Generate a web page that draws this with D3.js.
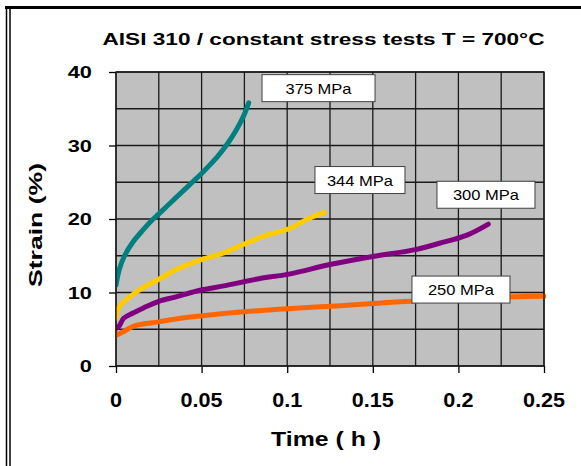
<!DOCTYPE html>
<html><head><meta charset="utf-8">
<script src="https://cdn.jsdelivr.net/npm/d3@7/dist/d3.min.js"></script>
<style>html,body{margin:0;padding:0;background:#fff;}svg{display:block;}</style>
</head><body>
<svg id="chart" width="581" height="466"></svg>
<script>
// ---- data ----
const seriesNames = ["375 MPa", "344 MPa", "300 MPa", "250 MPa"];
const seriesColors = ["#008080", "#FFCC00", "#800080", "#FF6600"];
const t375 = [0, 0.002, 0.005, 0.010, 0.015, 0.020, 0.025, 0.030, 0.035, 0.040, 0.045, 0.050, 0.055, 0.060, 0.065, 0.070, 0.0745, 0.0775];
const s375 = [11.0, 13.2, 15.0, 16.9, 18.3, 19.6, 20.7, 21.8, 22.9, 24.0, 25.1, 26.2, 27.4, 28.7, 30.2, 32.0, 34.0, 35.8];
const t344 = [0, 0.002, 0.008, 0.016, 0.025, 0.035, 0.049, 0.063, 0.076, 0.088, 0.1015, 0.111, 0.1215];
const s344 = [6.5, 8.1, 9.4, 10.7, 11.8, 13.1, 14.4, 15.4, 16.7, 17.8, 18.7, 19.9, 20.9];
const t300 = [0, 0.002, 0.0045, 0.010, 0.016, 0.025, 0.035, 0.049, 0.063, 0.084, 0.101, 0.125, 0.150, 0.174, 0.189, 0.205, 0.2175];
const s300 = [5.1, 5.5, 6.5, 7.2, 7.9, 8.8, 9.4, 10.3, 10.9, 11.9, 12.5, 13.8, 14.9, 15.8, 16.7, 17.8, 19.3];
const t250 = [0, 0.0045, 0.010, 0.025, 0.035, 0.049, 0.076, 0.100, 0.131, 0.150, 0.200, 0.250];
const s250 = [4.2, 4.7, 5.4, 6.0, 6.4, 6.8, 7.4, 7.8, 8.2, 8.5, 9.2, 9.5];
const xTicks = [0, 0.05, 0.1, 0.15, 0.2, 0.25];
const xTickLabels = ["0", "0.05", "0.1", "0.15", "0.2", "0.25"];
const yTicks = [0, 10, 20, 30, 40];
const xGrid = [0, 0.025, 0.05, 0.075, 0.1, 0.125, 0.15, 0.175, 0.2, 0.225, 0.25];
const yGrid = [0, 5, 10, 15, 20, 25, 30, 35, 40];
const titleText = "AISI 310 / constant  stress tests   T = 700\u00B0C";
const xTitle = "Time  ( h )";
const yTitle = "Strain (%)";
// label box centres (data coordinates)
const labelT = [0.1183, 0.1425, 0.2161, 0.2015];
const labelV = [37.8, 25.3, 23.3, 10.4];

const series = [
  {t: t375, s: s375}, {t: t344, s: s344}, {t: t300, s: s300}, {t: t250, s: s250}
];

// ---- layout ----
const svg = d3.select("#chart");
const L = 116, R = 544, T = 72, B = 366;
const x = d3.scaleLinear().domain([0, 0.25]).range([L, R]);
const y = d3.scaleLinear().domain([0, 40]).range([B, T]);
const FONT = "'Liberation Sans', Arial, sans-serif";

function stretch(sel, f) {
  sel.each(function() {
    const w = this.getComputedTextLength();
    d3.select(this).attr("textLength", w * f).attr("lengthAdjust", "spacingAndGlyphs");
  });
}

// outer frame
svg.append("line").attr("x1", 5).attr("x2", 581).attr("y1", 7.5).attr("y2", 7.5)
  .attr("stroke", "#000").attr("stroke-width", 3);
svg.append("line").attr("x1", 6.5).attr("x2", 6.5).attr("y1", 6).attr("y2", 466)
  .attr("stroke", "#000").attr("stroke-width", 1.5);
svg.append("line").attr("x1", 10).attr("x2", 10).attr("y1", 9).attr("y2", 466)
  .attr("stroke", "#000").attr("stroke-width", 1.5);

// plot background
svg.append("rect").attr("x", L).attr("y", T).attr("width", R - L).attr("height", B - T)
  .attr("fill", "#C0C0C0");

// grid
svg.append("g").selectAll("line").data(xGrid).join("line")
  .attr("x1", d => x(d)).attr("x2", d => x(d)).attr("y1", T).attr("y2", B)
  .attr("stroke", "#1a1a1a").attr("stroke-width", 1.3);
svg.append("g").selectAll("line").data(yGrid).join("line")
  .attr("x1", L).attr("x2", R).attr("y1", d => y(d)).attr("y2", d => y(d))
  .attr("stroke", "#1a1a1a").attr("stroke-width", 1.3);

// axes ticks
const yAxis = d3.axisLeft(y).tickValues(yTicks).tickSize(7).tickFormat("");
const gy = svg.append("g").attr("transform", `translate(${L},0)`).call(yAxis);
gy.select(".domain").remove();
gy.selectAll(".tick line").attr("stroke", "#000").attr("stroke-width", 1.3);
const xAxis = d3.axisBottom(x).tickValues(xTicks).tickSize(7).tickFormat("");
const gx = svg.append("g").attr("transform", `translate(0,${B})`).call(xAxis);
gx.select(".domain").remove();
gx.selectAll(".tick line").attr("stroke", "#000").attr("stroke-width", 1.3);

// tick labels
svg.append("g").selectAll("text").data(yTicks).join("text")
  .attr("x", 92).attr("y", d => y(d) + 6)
  .attr("text-anchor", "end").attr("font-family", FONT).attr("font-weight", "bold")
  .attr("font-size", 17).attr("fill", "#000").text(d => d)
  .call(stretch, 1.28);
svg.append("g").selectAll("text").data(xTicks).join("text")
  .attr("x", d => x(d)).attr("y", 407)
  .attr("text-anchor", "middle").attr("font-family", FONT).attr("font-weight", "bold")
  .attr("font-size", 20).attr("fill", "#000").text((d, i) => xTickLabels[i])
  .call(stretch, 1.08);

// titles
svg.append("text").attr("x", 102.5).attr("y", 44.5)
  .attr("font-family", FONT).attr("font-weight", "bold").attr("font-size", 17)
  .attr("textLength", 442).attr("lengthAdjust", "spacingAndGlyphs").text(titleText);
svg.append("text").attr("x", 271).attr("y", 446)
  .attr("font-family", FONT).attr("font-weight", "bold").attr("font-size", 20)
  .attr("textLength", 110).attr("lengthAdjust", "spacingAndGlyphs").text(xTitle);
svg.append("text").attr("transform", "translate(42,225) rotate(-90)")
  .attr("text-anchor", "middle")
  .attr("font-family", FONT).attr("font-weight", "bold").attr("font-size", 19)
  .attr("textLength", 124).attr("lengthAdjust", "spacingAndGlyphs")
  .text(yTitle);

// clip
svg.append("clipPath").attr("id", "clip").append("rect")
  .attr("x", L).attr("y", T - 10).attr("width", R - L + 2).attr("height", B - T + 20);

// curves
const line = d3.line().x(d => x(d[0])).y(d => y(d[1])).curve(d3.curveCatmullRom.alpha(0.5));
const gl = svg.append("g").attr("clip-path", "url(#clip)");
series.forEach((sr, i) => {
  const pts = sr.t.map((t, j) => [t, sr.s[j]]);
  gl.append("path").attr("d", line(pts)).attr("fill", "none")
    .attr("stroke", seriesColors[i]).attr("stroke-width", 5)
    .attr("stroke-linecap", "round").attr("stroke-linejoin", "round");
});

// plot border
svg.append("rect").attr("x", L).attr("y", T).attr("width", R - L).attr("height", B - T)
  .attr("fill", "none").attr("stroke", "#1a1a1a").attr("stroke-width", 1.3);

// label boxes
const boxW = [113, 90, 98, 98], boxH = 27;
seriesNames.forEach((name, i) => {
  const cx = x(labelT[i]), cy = y(labelV[i]);
  svg.append("rect").attr("x", cx - boxW[i] / 2).attr("y", cy - boxH / 2)
    .attr("width", boxW[i]).attr("height", boxH)
    .attr("fill", "#fff").attr("stroke", "#404040").attr("stroke-width", 1);
  svg.append("text").attr("x", cx).attr("y", cy + 5.5).attr("text-anchor", "middle")
    .attr("font-family", FONT).attr("font-size", 15).attr("fill", "#000").text(name)
    .call(stretch, 1.1);
});
</script>
</body></html>
